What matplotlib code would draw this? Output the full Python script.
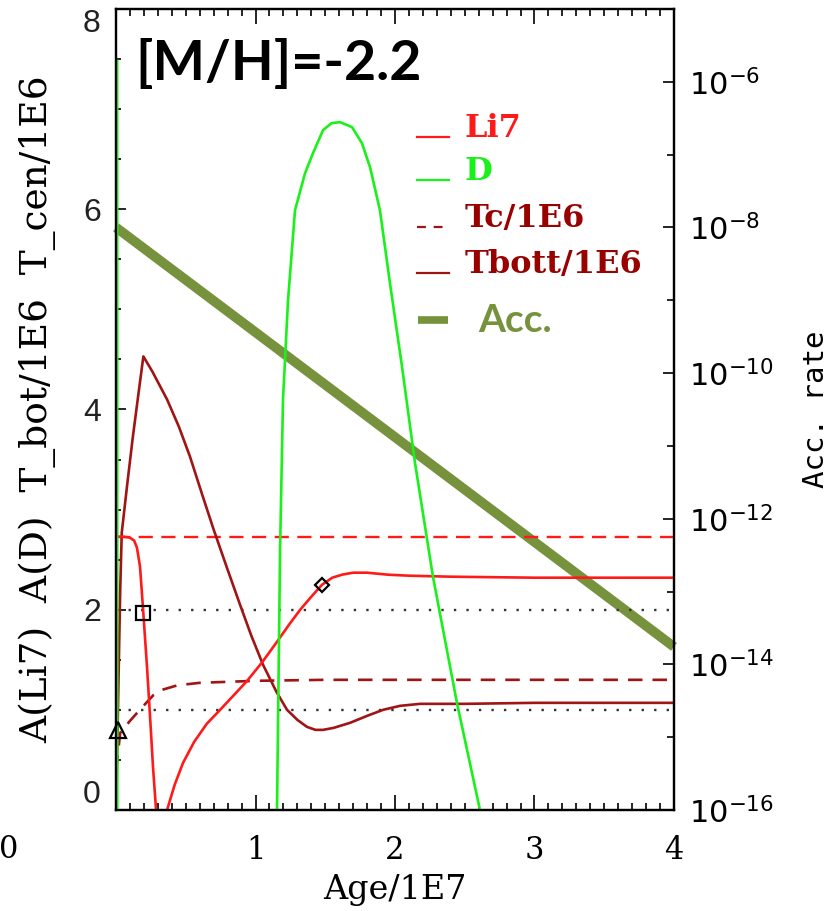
import matplotlib
matplotlib.use("Agg")
import matplotlib.pyplot as plt
from matplotlib.ticker import FixedLocator, MultipleLocator, LogFormatterSciNotation, NullFormatter

# Lithium-7 surface abundance A(Li7) versus age (1E7 yr)
li7_age = [0.0, 0.05, 0.10, 0.13, 0.15, 0.172, 0.194, 0.222, 0.244, 0.265, 0.287, 0.30, 0.33,
           0.366, 0.42, 0.48, 0.56, 0.65, 0.746, 0.84, 0.94, 1.05, 1.154, 1.24, 1.32, 1.40,
           1.477, 1.55, 1.62, 1.70, 1.80, 1.95, 2.10, 2.40, 3.00, 4.00]
li7_abund = [2.73, 2.73, 2.72, 2.69, 2.62, 2.43, 2.00, 1.43, 0.93, 0.43, 0.00, -0.25, -0.15,
             0.00, 0.25, 0.47, 0.68, 0.86, 1.00, 1.14, 1.29, 1.48, 1.68, 1.85, 2.00, 2.13,
             2.25, 2.32, 2.35, 2.37, 2.37, 2.35, 2.34, 2.33, 2.32, 2.32]

# Deuterium abundance A(D)
d_age = [0.008, 0.009, 1.150, 1.154, 1.176, 1.197, 1.233, 1.283, 1.355, 1.412, 1.484, 1.545,
         1.606, 1.692, 1.763, 1.821, 1.892, 1.964, 2.050, 2.143, 2.272, 2.444, 2.609, 2.62]
d_abund = [7.48, -0.5, -0.5, 0.00, 2.60, 4.10, 5.09, 5.99, 6.36, 6.56, 6.79, 6.86,
           6.87, 6.82, 6.66, 6.42, 5.99, 5.26, 4.43, 3.47, 2.33, 1.07, 0.00, -0.1]

# Central temperature / 1E6
tc_age = [0.0, 0.03, 0.10, 0.17, 0.27, 0.33, 0.44, 0.6, 0.8, 1.0, 1.5, 4.0]
tc_val = [0.40, 0.77, 0.89, 1.00, 1.15, 1.20, 1.245, 1.27, 1.28, 1.29, 1.30, 1.30]

# Temperature at the bottom of the convective envelope / 1E6
tb_age = [0.005, 0.015, 0.03, 0.041, 0.08, 0.12, 0.16, 0.196,
          0.26, 0.366, 0.45, 0.53, 0.62, 0.70, 0.80, 0.889, 0.97, 1.054, 1.15, 1.226,
          1.30, 1.369, 1.43, 1.484, 1.56, 1.677, 1.80, 1.914, 2.036, 2.18, 2.5, 3.0, 4.0]
tb_val = [0.3, 1.1, 2.2, 2.77, 3.25, 3.72, 4.15, 4.53,
          4.38, 4.10, 3.83, 3.53, 3.14, 2.80, 2.40, 2.05, 1.74, 1.45, 1.18, 1.00,
          0.90, 0.83, 0.80, 0.80, 0.82, 0.87, 0.94, 1.00, 1.04, 1.06, 1.06, 1.07, 1.07]

# Accretion rate (right axis)
acc_age = [0.0, 4.0]
acc_rate = [1.0e-8, 1.74e-14]

# Reference levels
li7_initial = 2.73
dotted_levels = [2.0, 1.0]

# Marked points
square_pt = (0.195, 1.97)
triangle_pt = (0.017, 0.80)
diamond_pt = (1.477, 2.25)

RED = "#FF1A1A"
GREEN = "#1AF01A"
DARKRED = "#A01414"
OLIVE = "#76923C"
SERIF = "DejaVu Serif"

fig = plt.figure(figsize=(8.33, 9.11), dpi=100)
ax = fig.add_axes([0.1393, 0.1109, 0.6698, 0.8792])
ax2 = ax.twinx()
ax2.set_zorder(ax.get_zorder() - 1)
ax.patch.set_visible(False)

ax.set_xlim(0, 4)
ax.set_ylim(0, 8)
ax2.set_yscale("log")
ax2.set_ylim(1e-16, 1e-5)

# accretion rate, drawn underneath the abundance curves
ax2.plot(acc_age, acc_rate, color=OLIVE, lw=7, solid_capstyle="butt", clip_on=False)

for lvl in dotted_levels:
    ax.plot([0, 4], [lvl, lvl], color="#333333", lw=1.7, ls=(0, (1, 4.3)))
ax.plot([0, 4], [li7_initial, li7_initial], color=RED, lw=1.7, ls=(0, (6, 3.6)))

ax.plot(tc_age, tc_val, color=DARKRED, lw=1.9, ls=(0, (5.5, 3.8)))
ax.plot(tb_age, tb_val, color=DARKRED, lw=1.9)
ax.plot(li7_age, li7_abund, color=RED, lw=1.9)
ax.plot(d_age, d_abund, color=GREEN, lw=1.9)

ax.plot(*square_pt, marker="s", ms=10, mfc="none", mec="black", mew=1.6, clip_on=False)
ax.plot(*triangle_pt, marker="^", ms=11, mfc="none", mec="black", mew=1.6, clip_on=False)
ax.plot(*diamond_pt, marker="D", ms=7.5, mfc="none", mec="black", mew=1.6, clip_on=False)

# axes frame and ticks
for a in (ax, ax2):
    for s in a.spines.values():
        s.set_linewidth(1.6)

ax.set_xticks([0, 1, 2, 3, 4])
ax.set_xticklabels(["", "1", "2", "3", "4"], fontfamily=SERIF, fontsize=22)
ax.xaxis.set_minor_locator(MultipleLocator(0.1))
ax.set_yticks([0, 2, 4, 6, 8])
ax.set_yticklabels(["0", "2", "4", "6", "8"], fontfamily="Liberation Sans", fontsize=23,
                   color="#222222")
ylabels = ax.get_yticklabels()
ylabels[0].set_va("bottom")
ylabels[-1].set_va("top")
ax.yaxis.set_minor_locator(MultipleLocator(0.5))
ax.tick_params(axis="x", which="both", direction="in", top=True, bottom=True, width=1.2)
ax.tick_params(axis="x", which="major", length=10.5, pad=18)
ax.tick_params(axis="x", which="minor", length=5)
ax.tick_params(axis="y", which="both", direction="in", left=True, right=False, width=1.2)
ax.tick_params(axis="y", which="major", length=7, pad=11)
ax.tick_params(axis="y", which="minor", length=3.6)

ax2.yaxis.set_major_locator(FixedLocator([10.0 ** e for e in range(-16, -5, 2)]))
ax2.yaxis.set_minor_locator(FixedLocator([10.0 ** e for e in range(-15, -4, 2)]))
ax2.yaxis.set_major_formatter(LogFormatterSciNotation())
ax2.yaxis.set_minor_formatter(NullFormatter())
ax2.tick_params(axis="y", which="both", direction="in", width=1.2, labelsize=22, pad=11)
ax2.tick_params(axis="y", which="major", length=8)
ax2.tick_params(axis="y", which="minor", length=5)

ax.set_xlabel("Age/1E7", fontfamily=SERIF, fontsize=24, labelpad=6)
ax.set_ylabel("A(Li7)  A(D)  T_bot/1E6  T_cen/1E6", fontfamily=SERIF, fontsize=27, va="center")
ax.yaxis.set_label_coords(-0.14, 0.5)
ax2.set_ylabel("Acc. rate", fontfamily="DejaVu Sans Mono", fontsize=21, va="center", rotation=90)
ax2.yaxis.set_label_coords(1.255, 0.5)

# stray zero of the age axis
fig.text(9 / 833, 1 - 850 / 911, "0", fontfamily=SERIF, fontsize=22, ha="center", va="center")

# title
ax.text(0.034, 0.9326, "[M/H]=-2.2", transform=ax.transAxes, fontfamily="Lato",
        fontweight="bold", fontsize=40, ha="left", va="center")

# legend
legend_rows = [("Li7", RED, "-", 0.8402),
               ("D", GREEN, "-", 0.7865),
               ("Tc/1E6", DARKRED, "--", 0.7278),
               ("Tbott/1E6", DARKRED, "-", 0.6704)]
for label, col, style, yy in legend_rows:
    ls = (0, (4, 3.5)) if style == "--" else "-"
    ax.plot([0.5394, 0.5968], [yy, yy], transform=ax.transAxes, color=col, lw=1.6, ls=ls)
    ax.text(0.6254, yy, label, transform=ax.transAxes, color=col if col != DARKRED else "#990000",
            fontfamily=SERIF, fontweight="bold", fontsize=23, ha="left", va="baseline")
ax.plot([0.541, 0.595], [0.6117, 0.6117], transform=ax.transAxes, color=OLIVE, lw=5.5,
        solid_capstyle="butt")
ax.text(0.649, 0.6117, "Acc.", transform=ax.transAxes, color=OLIVE, fontfamily="Lato",
        fontweight="bold", fontsize=28, ha="left", va="center")

fig.savefig("out.png", dpi=100)
